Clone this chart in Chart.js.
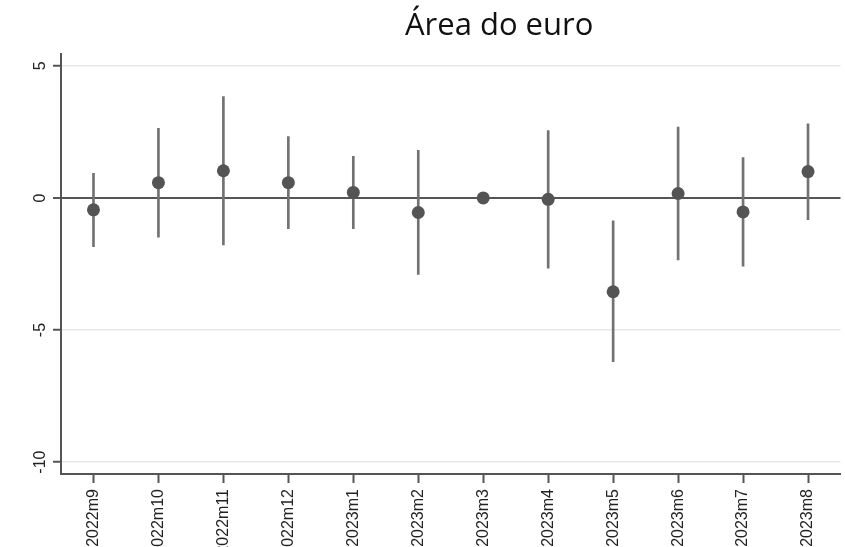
<!DOCTYPE html>
<html>
<head>
<meta charset="utf-8">
<script src="https://cdn.jsdelivr.net/npm/chart.js@4"></script>
<style>
  html, body { margin: 0; padding: 0; background: #fff; overflow: hidden; }
  #wrap { position: relative; width: 847px; height: 560px; }
</style>
</head>
<body>
<div id="wrap"><canvas id="chart"></canvas></div>
<script>
// dados
const titleText = 'Área do euro';
const categories = ['2022m9', '2022m10', '2022m11', '2022m12', '2023m1', '2023m2',
                    '2023m3', '2023m4', '2023m5', '2023m6', '2023m7', '2023m8'];
const estimates = [-0.45, 0.58, 1.03, 0.58, 0.21, -0.55, 0, -0.05, -3.55, 0.17, -0.53, 1.0];
const lower = [-1.84, -1.48, -1.78, -1.16, -1.16, -2.89, null, -2.66, -6.2, -2.35, -2.58, -0.82];
const upper = [0.93, 2.64, 3.84, 2.32, 1.58, 1.80, null, 2.55, -0.87, 2.68, 1.53, 2.81];
const yTicks = [-10, -5, 0, 5];

// intervalos como barras flutuantes finas
const intervals = lower.map((lo, i) => (lo === null ? null : [lo, upper[i]]));

// título desenhado no canvas
const titlePlugin = {
    id: 'titleText',
    afterDraw(chart) {
        const ctx = chart.ctx;
        ctx.save();
        ctx.font = '31px "Open Sans"';
        ctx.fillStyle = '#111';
        ctx.textAlign = 'left';
        ctx.textBaseline = 'alphabetic';
        ctx.fillText(titleText, 405, 35);
        ctx.restore();
    }
};

new Chart(document.getElementById('chart'), {
    type: 'bar',
    data: {
        labels: categories,
        datasets: [
            {
                type: 'line',
                data: estimates,
                showLine: false,
                pointRadius: 6.5,
                pointHoverRadius: 6.5,
                pointBackgroundColor: '#545454',
                pointBorderWidth: 0,
                order: 0
            },
            {
                data: intervals,
                backgroundColor: '#727272',
                borderWidth: 0,
                barThickness: 2,
                order: 1
            }
        ]
    },
    options: {
        responsive: true,
        maintainAspectRatio: false,
        animation: false,
        layout: { padding: { top: 54, left: 0, right: 0, bottom: 0 } },
        plugins: {
            legend: { display: false },
            tooltip: { enabled: false },
            title: { display: false }
        },
        scales: {
            x: {
                offset: true,
                grid: {
                    offset: false,
                    drawOnChartArea: false,
                    tickLength: 9,
                    tickColor: '#555',
                    tickWidth: 2
                },
                border: { color: '#555', width: 2 },
                ticks: {
                    minRotation: 90,
                    maxRotation: 90,
                    padding: 6,
                    color: '#222',
                    font: { family: '"Liberation Sans", Arial, sans-serif', size: 16 }
                },
                afterFit(scale) {
                    scale.height = 86;
                    scale.paddingLeft = 0;
                    scale.paddingRight = 0;
                }
            },
            y: {
                min: -10.45,
                max: 5.45,
                afterBuildTicks(scale) {
                    scale.ticks = yTicks.map(v => ({ value: v }));
                },
                grid: {
                    color: ctx => (ctx.tick && ctx.tick.value === 0 ? '#555' : '#e8e8e8'),
                    lineWidth: ctx => (ctx.tick && ctx.tick.value === 0 ? 2 : 1.5),
                    tickLength: 8,
                    tickColor: '#555',
                    tickWidth: 2
                },
                border: { color: '#555', width: 2 },
                ticks: {
                    minRotation: 90,
                    maxRotation: 90,
                    crossAlign: 'center',
                    padding: 1,
                    color: '#222',
                    font: { family: '"Liberation Sans", Arial, sans-serif', size: 16 }
                },
                afterFit(scale) {
                    scale.width = 61;
                    scale.paddingTop = 0;
                    scale.paddingBottom = 0;
                }
            }
        }
    },
    plugins: [titlePlugin]
});
</script>
</body>
</html>
